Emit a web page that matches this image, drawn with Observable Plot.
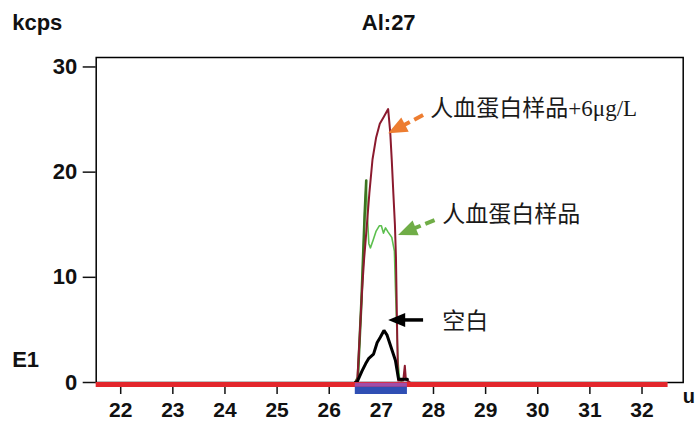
<!DOCTYPE html>
<html>
<head>
<meta charset="utf-8">
<script src="https://cdn.jsdelivr.net/npm/d3@7"></script>
<script src="https://cdn.jsdelivr.net/npm/@observablehq/plot@0.6"></script>
<style>
  html, body { margin: 0; padding: 0; background: #fff; }
</style>
</head>
<body>
<div id="chart"></div>
<script>
// ---- data ----
const xTicks = [22, 23, 24, 25, 26, 27, 28, 29, 30, 31, 32];
const yTicks = [0, 10, 20, 30];

// 人血蛋白样品+6μg/L (red)
const redX = [26.50, 26.54, 26.58, 26.63, 26.67, 26.70, 26.77, 26.83, 26.90, 26.97, 27.04, 27.13, 27.17, 27.20, 27.23, 27.26, 27.28, 27.30, 27.32, 27.42, 27.45, 27.47, 27.55];
const redY = [0, 0.3, 4.0, 8.8, 11.8, 13.6, 18.0, 21.2, 23.3, 24.6, 25.2, 26.0, 23.8, 21.1, 18.0, 15.0, 11.9, 5.6, 0.2, 0.2, 1.6, 0.3, 0];

// 人血蛋白样品 (green)
const greenX = [26.50, 26.55, 26.62, 26.68, 26.71, 26.73, 26.76, 26.79, 26.84, 26.90, 26.96, 27.00, 27.04, 27.08, 27.13, 27.20, 27.25, 27.27, 27.29, 27.32, 27.35, 27.40];
const greenY = [0, 0.5, 8.0, 16.0, 19.2, 16.0, 13.2, 12.8, 13.5, 14.4, 14.9, 14.9, 14.2, 14.7, 14.3, 13.8, 12.5, 9.0, 6.0, 2.0, 0.3, 0];

// 空白 (black)
const blackX = [26.50, 26.54, 26.63, 26.70, 26.76, 26.85, 26.92, 26.98, 27.05, 27.11, 27.21, 27.27, 27.33, 27.50];
const blackY = [0, 0.1, 1.1, 1.8, 2.3, 2.7, 3.8, 4.3, 4.95, 4.5, 3.0, 2.1, 0.3, 0.3];

// integration window
const windowStart = [26.5];
const windowEnd = [27.5];
const baselineStart = 21.53;
const baselineEnd = 32.5;

// annotations
const annLabels = ["人血蛋白样品+6μg/L", "人血蛋白样品", "空白"];
const annX = [27.94, 28.17, 28.17];
const annY = [26.05, 16.0, 5.8];

const arrowX1 = [27.81, 28.03, 27.81];
const arrowY1 = [25.38, 15.40, 5.90];
const arrowX2 = [27.14, 27.33, 27.14];
const arrowY2 = [23.64, 13.97, 5.90];
const arrowColors = ["#ED7D31", "#70AD47", "#000000"];
const arrowDashed = [true, true, false];

const titleText = "Al:27";
const yUnitText = "kcps";
const expText = "E1";
const xUnitText = "u";

// ---- tables built from arrays ----
const red = redX.map((x, i) => ({x, y: redY[i]}));
const green = greenX.map((x, i) => ({x, y: greenY[i]}));
const greenRise = green.filter(d => d.x <= 26.72);
const black = blackX.map((x, i) => ({x, y: blackY[i]}));
const windows = windowStart.map((s, i) => ({x1: s, x2: windowEnd[i]}));
const anns = annLabels.map((t, i) => ({t, x: annX[i], y: annY[i]}));
const arrows = arrowX1.map((x1, i) => ({
  x1, y1: arrowY1[i], x2: arrowX2[i], y2: arrowY2[i],
  color: arrowColors[i], dashed: arrowDashed[i]
}));

function arrowMark(data) {
  return (index, scales) => {
    const g = d3.create("svg:g");
    for (const a of data) {
      const x1 = scales.x(a.x1), y1 = scales.y(a.y1);
      const x2 = scales.x(a.x2), y2 = scales.y(a.y2);
      const dx = x2 - x1, dy = y2 - y1, L = Math.hypot(dx, dy);
      const ux = dx / L, uy = dy / L;
      const headLen = a.dashed ? 19 : 17, headW = a.dashed ? 8 : 7;
      const bx = x2 - ux * headLen, by = y2 - uy * headLen;
      g.append("line")
        .attr("x1", x1).attr("y1", y1)
        .attr("x2", bx + ux * 1).attr("y2", by + uy * 1)
        .attr("stroke", a.color)
        .attr("stroke-width", a.dashed ? 4 : 3.5)
        .attr("stroke-dasharray", a.dashed ? "10,5" : null);
      g.append("path")
        .attr("d", `M${x2},${y2}L${bx - uy * headW},${by + ux * headW}L${bx + uy * headW},${by - ux * headW}Z`)
        .attr("fill", a.color);
    }
    return g.node();
  };
}

const labelFont = "'Liberation Sans', Arial, sans-serif";
const annFont = "'Liberation Serif', 'Times New Roman', 'Noto Sans CJK SC', serif";

const chart = Plot.plot({
  width: 695,
  height: 423,
  marginLeft: 95.7,
  marginRight: 12.3,
  marginTop: 57,
  marginBottom: 41,
  style: {fontFamily: labelFont, fontSize: "22px", fontWeight: "bold", color: "#111", background: "#fff"},
  x: {domain: [21.53, 32.79]},
  y: {domain: [0, 30.9]},
  marks: [
    Plot.frame({stroke: "#000", strokeWidth: 1.5}),
    Plot.axisX({ticks: xTicks, label: null, tickSize: 12, tickPadding: 7.5, fontSize: 21, tickFormat: d => String(d), strokeWidth: 1.5, fill: "#111"}),
    Plot.axisY({ticks: yTicks, label: null, tickSize: 13, tickPadding: 6, tickFormat: d => String(d), strokeWidth: 1.5, fill: "#111"}),
    Plot.line(green, {x: "x", y: "y", stroke: "#5CBF4E", strokeWidth: 1.6}),
    Plot.line(greenRise, {x: "x", y: "y", stroke: "#3C7420", strokeWidth: 2.6}),
    Plot.line(red, {x: "x", y: "y", stroke: "#8B1A2E", strokeWidth: 2}),
    Plot.line(black, {x: "x", y: "y", stroke: "#000", strokeWidth: 3, strokeLinejoin: "miter"}),
    Plot.ruleY([0], {x1: baselineStart, x2: baselineEnd, stroke: "#E3262C", strokeWidth: 5, dy: 2}),
    Plot.rect(windows, {x1: "x1", x2: "x2", y1: -0.07, y2: -0.45, fill: "#A04DA8"}),
    Plot.rect(windows, {x1: "x1", x2: "x2", y1: -0.45, y2: -1.14, fill: "#2F4FB4"}),
    arrowMark(arrows),
    Plot.text(anns, {x: "x", y: "y", text: "t", textAnchor: "start", lineAnchor: "middle",
      fontFamily: annFont, fontSize: 23, fontWeight: "normal", fill: "#1a1a1a"}),
    Plot.text([titleText], {frameAnchor: "top", lineAnchor: "bottom", dy: -28, dx: -1, fill: "#111"}),
    Plot.text([yUnitText], {frameAnchor: "top-left", textAnchor: "start", lineAnchor: "bottom", dx: -84, dy: -28, fill: "#111"}),
    Plot.text([expText], {frameAnchor: "bottom-left", textAnchor: "start", lineAnchor: "bottom", dx: -84, dy: -15.3, fill: "#111"}),
    Plot.text([xUnitText], {frameAnchor: "bottom-right", textAnchor: "start", lineAnchor: "bottom", dx: -0.5, dy: 20, fontSize: 20, fill: "#111"})
  ]
});
document.getElementById("chart").appendChild(chart);
</script>
</body>
</html>
